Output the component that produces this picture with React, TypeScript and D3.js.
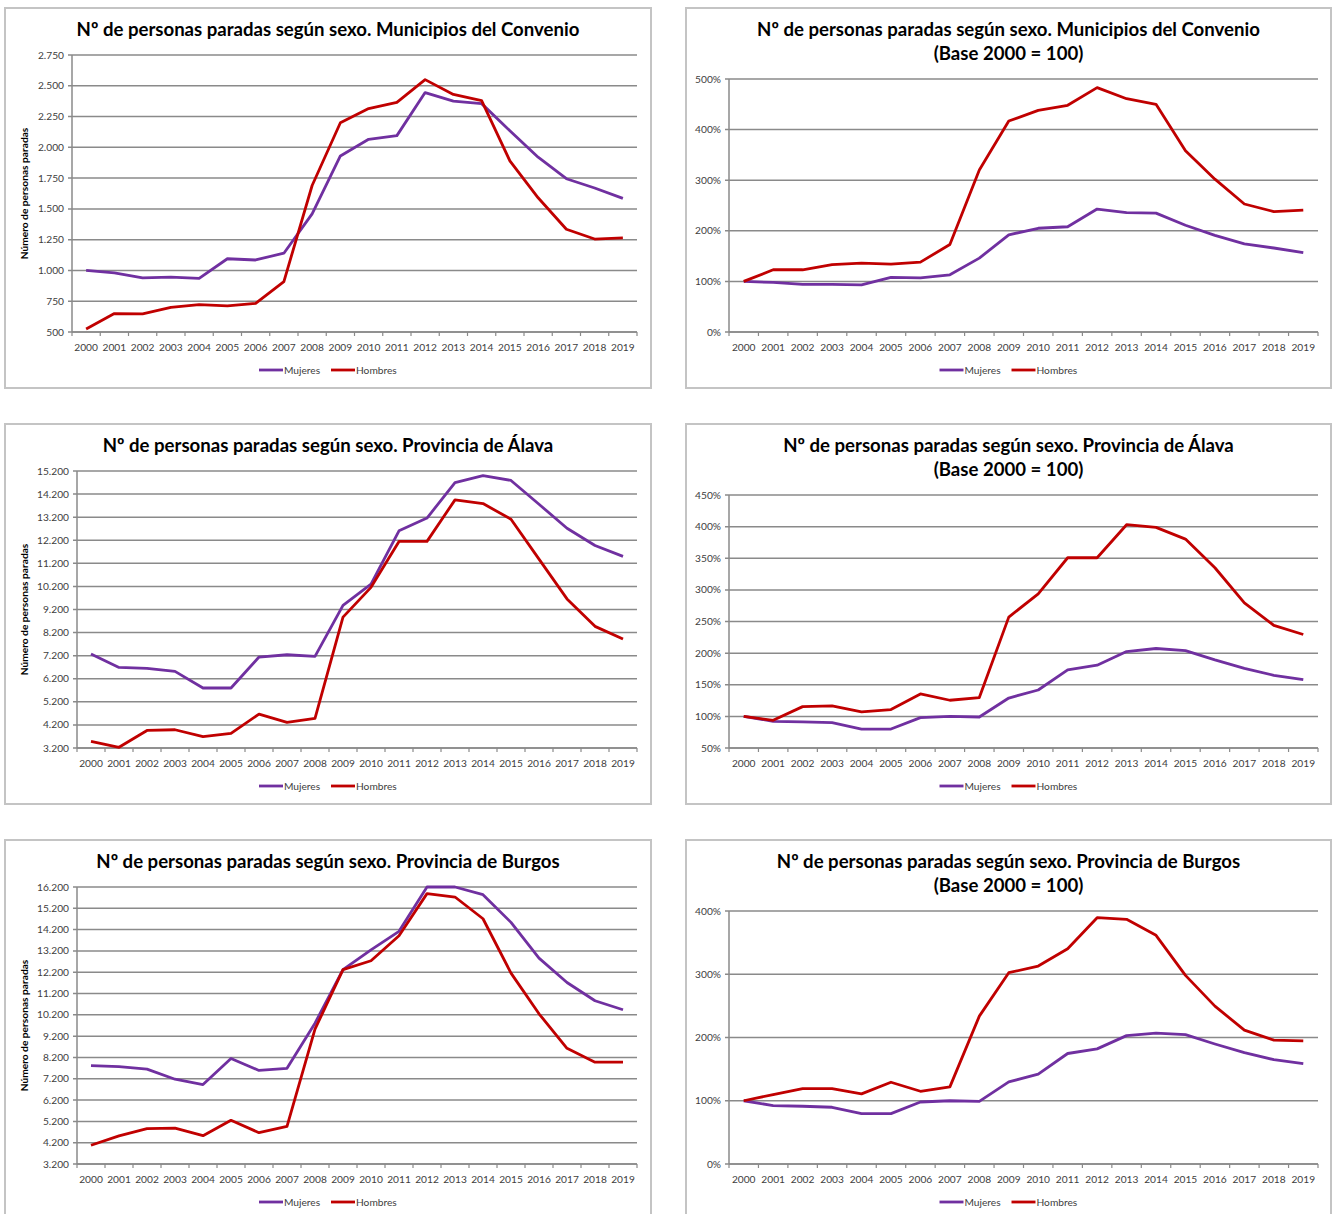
import React from "react";
import * as d3 from "d3";

// ---------- DATA ----------
const years = ["2000","2001","2002","2003","2004","2005","2006","2007","2008","2009","2010","2011","2012","2013","2014","2015","2016","2017","2018","2019"];

const convenioMujeres = [1000, 980, 940, 945, 935, 1095, 1085, 1140, 1460, 1930, 2065, 2095, 2445, 2375, 2355, 2135, 1920, 1745, 1670, 1585];
const convenioHombres = [525, 650, 648, 700, 722, 712, 732, 910, 1690, 2200, 2315, 2365, 2550, 2430, 2380, 1890, 1590, 1335, 1255, 1265];

const convenioMujeresIdx = [100, 98, 94, 94, 93, 108, 107, 113, 146, 192, 205, 208, 243, 236, 235, 211, 191, 174, 166, 157];
const convenioHombresIdx = [100, 123, 123, 133, 136, 134, 138, 173, 320, 417, 438, 448, 483, 461, 450, 358, 302, 253, 238, 241];

const alavaMujeres = [7270, 6690, 6650, 6520, 5800, 5800, 7140, 7240, 7170, 9380, 10300, 12610, 13160, 14700, 15000, 14790, 13760, 12720, 11970, 11500];
const alavaHombres = [3490, 3230, 3960, 3990, 3690, 3830, 4670, 4310, 4480, 8870, 10160, 12150, 12150, 13950, 13790, 13110, 11380, 9660, 8470, 7920];

const alavaMujeresIdx = [100, 92.2, 91.2, 90.1, 80, 80, 98, 100, 99, 129, 141.7, 173.5, 180.9, 202.5, 207.3, 204, 189.3, 176, 165, 158];
const alavaHombresIdx = [100, 93.8, 115.4, 116.5, 107, 110.7, 135.5, 125.5, 129.7, 256.9, 293.8, 350.8, 350.8, 403, 398.8, 380.3, 335, 279.5, 244, 229.4];

const burgosMujeres = [7820, 7770, 7650, 7180, 6930, 8150, 7590, 7690, 9810, 12320, 13250, 14120, 16200, 16200, 15840, 14540, 12860, 11720, 10860, 10440];
const burgosHombres = [4080, 4520, 4860, 4880, 4530, 5250, 4670, 4970, 9530, 12320, 12740, 13910, 15890, 15730, 14710, 12160, 10250, 8630, 7980, 7980];

const burgosMujeresIdx = [100, 92.3, 91.3, 89.7, 79.7, 79.7, 98, 100, 99, 129.8, 142, 174.7, 182, 203, 206.9, 204.5, 189.7, 176, 164.9, 158.6];
const burgosHombresIdx = [100, 109.8, 119.3, 119.3, 110.8, 129.3, 115, 121.9, 233.8, 302.4, 313, 340.4, 389.4, 386.8, 361.5, 298.2, 249.6, 211.6, 195.8, 194.7];

const ticksConvenio = [500, 750, 1000, 1250, 1500, 1750, 2000, 2250, 2500, 2750];
const ticksConvenioIdx = [0, 100, 200, 300, 400, 500];
const ticksAlava = [3200, 4200, 5200, 6200, 7200, 8200, 9200, 10200, 11200, 12200, 13200, 14200, 15200];
const ticksAlavaIdx = [50, 100, 150, 200, 250, 300, 350, 400, 450];
const ticksBurgos = [3200, 4200, 5200, 6200, 7200, 8200, 9200, 10200, 11200, 12200, 13200, 14200, 15200, 16200];
const ticksBurgosIdx = [0, 100, 200, 300, 400];

const seriesNames = ["Mujeres", "Hombres"];
const seriesColors = ["#7030A0", "#C00000"];

const titleConvenio = "Nº de personas paradas según sexo. Municipios del Convenio";
const titleAlava = "Nº de personas paradas según sexo. Provincia de Álava";
const titleBurgos = "Nº de personas paradas según sexo. Provincia de Burgos";
const titleBase = "(Base 2000 = 100)";
const yAxisTitle = "Número de personas paradas";

// ---------- FORMAT ----------
const esLocale = d3.formatLocale({ decimal: ",", thousands: ".", grouping: [3], currency: ["", " €"] });
const fmtNum = esLocale.format(",d");
const fmtPct = (d: number) => `${d}%`;

type PanelCfg = {
  box: [number, number, number, number];
  plot: [number, number, number, number]; // left, top, right, bottom
  titles: string[];
  ticks: number[];
  fmt: (d: number) => string;
  series: number[][];
  yTitle: boolean;
  xLabelY: number;
  legendY: number;
};

const panels: PanelCfg[] = [
  { box: [5, 8, 651, 388], plot: [72, 55, 637, 332], titles: [titleConvenio], ticks: ticksConvenio, fmt: fmtNum, series: [convenioMujeres, convenioHombres], yTitle: true, xLabelY: 347, legendY: 370 },
  { box: [686, 8, 1331, 388], plot: [729, 79, 1318, 332], titles: [titleConvenio, titleBase], ticks: ticksConvenioIdx, fmt: fmtPct, series: [convenioMujeresIdx, convenioHombresIdx], yTitle: false, xLabelY: 347, legendY: 370 },
  { box: [5, 424, 651, 804], plot: [77, 471, 637, 748], titles: [titleAlava], ticks: ticksAlava, fmt: fmtNum, series: [alavaMujeres, alavaHombres], yTitle: true, xLabelY: 763, legendY: 786 },
  { box: [686, 424, 1331, 804], plot: [729, 495, 1318, 748], titles: [titleAlava, titleBase], ticks: ticksAlavaIdx, fmt: fmtPct, series: [alavaMujeresIdx, alavaHombresIdx], yTitle: false, xLabelY: 763, legendY: 786 },
  { box: [5, 840, 651, 1224], plot: [77, 887, 637, 1164], titles: [titleBurgos], ticks: ticksBurgos, fmt: fmtNum, series: [burgosMujeres, burgosHombres], yTitle: true, xLabelY: 1179, legendY: 1202 },
  { box: [686, 840, 1331, 1224], plot: [729, 911, 1318, 1164], titles: [titleBurgos, titleBase], ticks: ticksBurgosIdx, fmt: fmtPct, series: [burgosMujeresIdx, burgosHombresIdx], yTitle: false, xLabelY: 1179, legendY: 1202 },
];

const FONT = "Lato, 'Open Sans', sans-serif";
const GRID = "#8a8a8a";
const TXT = "#404040";

function Panel({ cfg }: { cfg: PanelCfg }) {
  const [bx0, by0, bx1, by1] = cfg.box;
  const [pl, pt, pr, pb] = cfg.plot;
  const x = d3.scaleBand<string>().domain(years).range([pl, pr]).padding(0);
  const y = d3.scaleLinear().domain([cfg.ticks[0], cfg.ticks[cfg.ticks.length - 1]]).range([pb, pt]);
  const cx = (yr: string) => (x(yr) as number) + x.bandwidth() / 2;
  const line = d3.line<number>().x((_, i) => cx(years[i])).y((v) => y(v));
  const boundaries = years.map((yr) => x(yr) as number).concat([pr]);
  const midX = (bx0 + bx1) / 2;

  const legLine = 24;
  const legW = [legLine + 37, legLine + 42];
  const gap = 11;
  const total = legW[0] + gap + legW[1];
  const legStart = midX - total / 2;

  return (
    <g>
      <rect x={bx0} y={by0} width={bx1 - bx0} height={by1 - by0} fill="#ffffff" stroke="#c4c4c4" strokeWidth={2} />
      {cfg.titles.map((t, i) => (
        <text key={i} x={midX} y={by0 + 28 + i * 24} textAnchor="middle" fontFamily={FONT} fontWeight={700} fontSize={18.6} fill="#000">{t}</text>
      ))}
      {cfg.ticks.map((t) => (
        <g key={t}>
          <line x1={pl - 4} x2={pr} y1={y(t)} y2={y(t)} stroke={GRID} strokeWidth={1.5} />
          <text x={pl - 8} y={y(t)} dy="0.35em" textAnchor="end" fontFamily={FONT} fontSize={10.2} fill={TXT}>{cfg.fmt(t)}</text>
        </g>
      ))}
      <line x1={pl} x2={pl} y1={pt} y2={pb} stroke={GRID} strokeWidth={1.5} />
      <line x1={pl} x2={pr} y1={pb} y2={pb} stroke={GRID} strokeWidth={1.5} />
      {boundaries.map((bx, i) => (
        <line key={i} x1={bx} x2={bx} y1={pb} y2={pb + 4} stroke={GRID} strokeWidth={1.2} />
      ))}
      {years.map((yr) => (
        <text key={yr} x={cx(yr)} y={cfg.xLabelY} dy="0.35em" textAnchor="middle" fontFamily={FONT} fontSize={10.2} fill={TXT}>{yr}</text>
      ))}
      {cfg.yTitle && (
        <text transform={`translate(${bx0 + 23},${(pt + pb) / 2}) rotate(-90)`} textAnchor="middle" fontFamily={FONT} fontWeight={700} fontSize={10.2} fill="#000">{yAxisTitle}</text>
      )}
      {cfg.series.map((s, i) => (
        <path key={i} d={line(s) as string} fill="none" stroke={seriesColors[i]} strokeWidth={2.8} strokeLinejoin="round" />
      ))}
      {seriesNames.map((n, i) => {
        const lx = legStart + (i === 0 ? 0 : legW[0] + gap);
        return (
          <g key={n}>
            <line x1={lx} x2={lx + legLine} y1={cfg.legendY} y2={cfg.legendY} stroke={seriesColors[i]} strokeWidth={2.8} />
            <text x={lx + legLine + 1} y={cfg.legendY} dy="0.35em" fontFamily={FONT} fontSize={10.2} fill={TXT}>{n}</text>
          </g>
        );
      })}
    </g>
  );
}

export default function App() {
  return (
    <svg width={1335} height={1214} style={{ position: "absolute", left: 0, top: 0, background: "#fff" }}>
      <rect x={0} y={0} width={1335} height={1214} fill="#fff" />
      {panels.map((p, i) => (
        <Panel key={i} cfg={p} />
      ))}
    </svg>
  );
}
